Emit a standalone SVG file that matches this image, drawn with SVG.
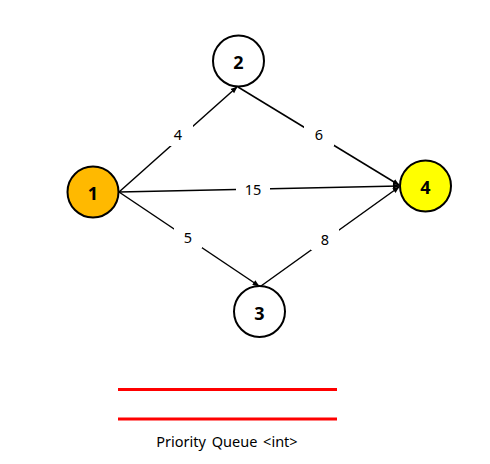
<svg xmlns="http://www.w3.org/2000/svg" width="490" height="464" viewBox="0 0 490 464">
<defs>
<marker id="arr" viewBox="0 0 10 10" refX="9" refY="5" markerWidth="7" markerHeight="7" markerUnits="userSpaceOnUse" orient="auto">
<path d="M0,1 L10,5 L0,9 Z" fill="#000"/>
</marker>
<style>
.node{stroke:#000;stroke-width:2}
.nl{font-family:"Noto Sans","Open Sans",sans-serif;font-size:18px;font-weight:bold;text-anchor:middle;dominant-baseline:central;fill:#000}
.edge{stroke:#000;stroke-width:1.5;fill:none;marker-end:url(#arr)}
.lbg{fill:#fff}
.el{font-family:"Noto Sans","Open Sans",sans-serif;font-size:14.5px;text-anchor:middle;dominant-baseline:central;fill:#000}
.q{stroke:#ff0000;stroke-width:3}
</style>
</defs>
<rect width="490" height="464" fill="#fff"/>
<g id="connectors">
<line class="edge" x1="119" y1="192" x2="237" y2="87"/>
<line class="edge" x1="119" y1="192" x2="399" y2="186"/>
<line class="edge" x1="119" y1="192" x2="259" y2="286"/>
<line class="edge" x1="238" y1="87" x2="399" y2="185"/>
<line class="edge" x1="261" y1="286" x2="399" y2="187"/>
<rect class="lbg" x="165" y="124" width="28" height="22"/>
<text class="el" x="178" y="134">4</text>
<rect class="lbg" x="304" y="124" width="30" height="22"/>
<text class="el" x="319" y="134">6</text>
<rect class="lbg" x="236" y="178" width="34" height="22"/>
<text class="el" x="253" y="189">15</text>
<rect class="lbg" x="174" y="226" width="28" height="22"/>
<text class="el" x="188" y="237">5</text>
<rect class="lbg" x="311" y="228" width="28" height="22"/>
<text class="el" x="325" y="239">8</text>
</g>
<g id="node1"><circle class="node" cx="93" cy="192" r="25.5" fill="#ffb900"/><text class="nl" x="93" y="193">1</text></g>
<g id="node2"><circle class="node" cx="238.5" cy="61" r="25.5" fill="#fff"/><text class="nl" x="238.5" y="62">2</text></g>
<g id="node3"><circle class="node" cx="259.5" cy="311.5" r="25.5" fill="#fff"/><text class="nl" x="259.5" y="312.5">3</text></g>
<g id="node4"><circle class="node" cx="425.5" cy="186" r="25.5" fill="#ffff00"/><text class="nl" x="425.5" y="187">4</text></g>
<g id="queue">
<line class="q" x1="118" y1="389.5" x2="337" y2="389.5"/>
<line class="q" x1="118" y1="419" x2="337" y2="419"/>
<text x="227" y="441" font-family="'Noto Sans','Open Sans',sans-serif" font-size="14.5" text-anchor="middle" dominant-baseline="central" fill="#000" word-spacing="2">Priority Queue &lt;int&gt;</text>
</g>
</svg>
